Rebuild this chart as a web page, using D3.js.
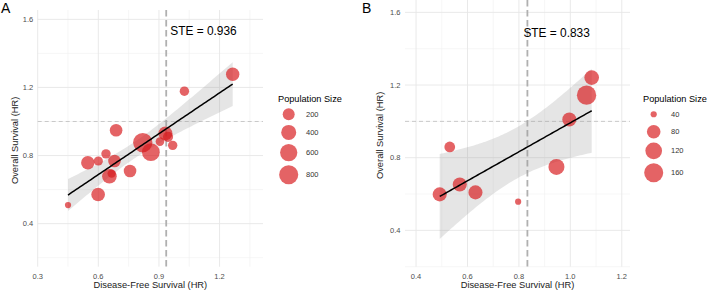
<!DOCTYPE html>
<html>
<head>
<meta charset="utf-8">
<script src="https://cdn.jsdelivr.net/npm/d3@7"></script>
<style>
  body { margin: 0; background: #fff; }
  svg { font-family: "Liberation Sans", Arial, sans-serif; display: block; }
</style>
</head>
<body>
<svg id="chart" width="708" height="290"></svg>
<script>
// Panel A data: disease-free survival HR, overall survival HR, population size
const dfsA = [1.265, 1.026, 0.688, 0.932, 0.945, 0.820, 0.860, 0.905, 0.968, 0.638, 0.548, 0.600, 0.680, 0.757, 0.666, 0.655, 0.599, 0.450];
const osA  = [1.278, 1.178, 0.949, 0.930, 0.910, 0.876, 0.820, 0.882, 0.860, 0.810, 0.758, 0.768, 0.768, 0.709, 0.694, 0.678, 0.571, 0.509];
const popA = [283, 96, 234, 323, 120, 820, 650, 76, 96, 96, 283, 90, 234, 234, 70, 367, 300, 50];
const steA = 0.936;

// Panel B data
const dfsB = [0.492, 0.531, 0.570, 0.631, 0.797, 0.946, 0.996, 1.063, 1.083];
const osB  = [0.598, 0.859, 0.652, 0.609, 0.558, 0.749, 1.010, 1.144, 1.241];
const popB = [85, 55, 85, 85, 40, 110, 85, 165, 92];
const steB = 0.833;

// axis ticks and legend breaks
const xTicksA = [0.3, 0.6, 0.9, 1.2];
const xMinorA = [0.45, 0.75, 1.05, 1.35];
const xTicksB = [0.4, 0.6, 0.8, 1.0, 1.2];
const xMinorB = [0.5, 0.7, 0.9, 1.1];
const yTicks = [0.4, 0.8, 1.2, 1.6];
const yMinor = [0.2, 0.6, 1.0, 1.4];
const legendA = [200, 400, 600, 800];
const legendB = [40, 80, 120, 160];

const svg = d3.select("#chart");
const pointFill = "#d7191c";

// t quantile (0.975) via Cornish-Fisher expansion
function tCrit(df) {
    const z = 1.959964;
    return z + (Math.pow(z,3) + z) / (4*df)
        + (5*Math.pow(z,5) + 16*Math.pow(z,3) + 3*z) / (96*df*df)
        + (3*Math.pow(z,7) + 19*Math.pow(z,5) + 17*Math.pow(z,3) - 15*z) / (384*df*df*df);
}

// ordinary least squares with 95% confidence band
function lmFit(xs, ys) {
    const n = xs.length;
    const mx = d3.mean(xs), my = d3.mean(ys);
    let sxx = 0, sxy = 0;
    xs.forEach((x, i) => { sxx += (x-mx)*(x-mx); sxy += (x-mx)*(ys[i]-my); });
    const slope = sxy / sxx, icpt = my - slope*mx;
    let ssr = 0;
    xs.forEach((x, i) => { const r = ys[i] - (icpt + slope*x); ssr += r*r; });
    const s = Math.sqrt(ssr / (n-2));
    const t = tCrit(n-2);
    return function(x) {
        const fit = icpt + slope*x;
        const se = s * Math.sqrt(1/n + (x-mx)*(x-mx)/sxx);
        return {x: x, fit: fit, lo: fit - t*se, hi: fit + t*se};
    };
}

function drawPanel(cfg) {
    const g = svg.append("g");
    const x = d3.scaleLinear().domain(cfg.xDomain).range([cfg.left, cfg.right]);
    const y = d3.scaleLinear().domain(cfg.yDomain).range([cfg.bottom, cfg.top]);

    const ext = d3.extent(cfg.pop);
    const sizeT = d3.scaleLinear().domain(ext).range([0, 1]);
    const rad = d3.scaleLinear().domain([0, 1]).range([3.1, 9.65]);
    const r = v => rad(Math.sqrt(Math.max(0, sizeT(v))));

    // grid
    g.selectAll(".vmin").data(cfg.xMinor).enter().append("line")
        .attr("x1", d => x(d)).attr("x2", d => x(d))
        .attr("y1", cfg.top).attr("y2", cfg.bottom)
        .attr("stroke", "#f0f0f0").attr("stroke-width", 0.6);
    g.selectAll(".hmin").data(yMinor).enter().append("line")
        .attr("x1", cfg.left).attr("x2", cfg.right)
        .attr("y1", d => y(d)).attr("y2", d => y(d))
        .attr("stroke", "#f0f0f0").attr("stroke-width", 0.6);
    g.selectAll(".vmaj").data(cfg.xTicks).enter().append("line")
        .attr("x1", d => x(d)).attr("x2", d => x(d))
        .attr("y1", cfg.top).attr("y2", cfg.bottom)
        .attr("stroke", "#e6e6e6").attr("stroke-width", 0.9);
    g.selectAll(".hmaj").data(yTicks).enter().append("line")
        .attr("x1", cfg.left).attr("x2", cfg.right)
        .attr("y1", d => y(d)).attr("y2", d => y(d))
        .attr("stroke", "#e6e6e6").attr("stroke-width", 0.9);

    // tick labels
    g.selectAll(".xt").data(cfg.xTicks).enter().append("text")
        .attr("x", d => x(d)).attr("y", 276)
        .attr("text-anchor", "middle").attr("dominant-baseline", "central")
        .attr("font-size", 7.5).attr("fill", "#4d4d4d")
        .text(d => d.toFixed(1));
    g.selectAll(".yt").data(yTicks).enter().append("text")
        .attr("x", cfg.left - 4.5).attr("y", d => y(d))
        .attr("text-anchor", "end").attr("dominant-baseline", "central")
        .attr("font-size", 7.5).attr("fill", "#4d4d4d")
        .text(d => d.toFixed(1));

    // axis titles
    g.append("text")
        .attr("x", (cfg.left + cfg.right) / 2).attr("y", 284.5)
        .attr("text-anchor", "middle").attr("dominant-baseline", "central")
        .attr("font-size", 9.3).attr("fill", "#1a1a1a")
        .text("Disease-Free Survival (HR)");
    g.append("text")
        .attr("transform", `translate(${cfg.yTitleX},${(cfg.top + cfg.bottom) / 2 + 2}) rotate(-90)`)
        .attr("text-anchor", "middle").attr("dominant-baseline", "central")
        .attr("font-size", 9.3).attr("fill", "#1a1a1a")
        .text("Overall Survival (HR)");

    // reference lines
    g.append("line")
        .attr("x1", cfg.left).attr("x2", cfg.right)
        .attr("y1", y(1)).attr("y2", y(1))
        .attr("stroke", "#bdbdbd").attr("stroke-width", 0.8)
        .attr("stroke-dasharray", "4,3");
    g.append("line")
        .attr("x1", x(cfg.ste)).attr("x2", x(cfg.ste))
        .attr("y1", cfg.top).attr("y2", cfg.bottom)
        .attr("stroke", "#b0b0b0").attr("stroke-width", 1.8)
        .attr("stroke-dasharray", "6.5,3.5");

    // regression band and line
    const fit = lmFit(cfg.dfs, cfg.os);
    const xr = d3.extent(cfg.dfs);
    const grid = d3.range(0, 81).map(i => fit(xr[0] + (xr[1]-xr[0]) * i / 80));
    g.append("path").datum(grid)
        .attr("d", d3.area().x(d => x(d.x)).y0(d => y(d.lo)).y1(d => y(d.hi)))
        .attr("fill", "#999999").attr("fill-opacity", 0.26);

    // points
    const pts = cfg.dfs.map((d, i) => ({x: d, y: cfg.os[i], p: cfg.pop[i]}));
    g.selectAll(".pt").data(pts).enter().append("circle")
        .attr("cx", d => x(d.x)).attr("cy", d => y(d.y)).attr("r", d => r(d.p))
        .attr("fill", pointFill).attr("fill-opacity", 0.68);

    g.append("path").datum(grid)
        .attr("d", d3.line().x(d => x(d.x)).y(d => y(d.fit)))
        .attr("fill", "none").attr("stroke", "#000").attr("stroke-width", 1.5);

    // STE label
    g.append("text")
        .attr("x", x(cfg.ste) + cfg.steDx).attr("y", cfg.steY)
        .attr("dominant-baseline", "central")
        .attr("font-size", 11.9).attr("fill", "#000")
        .text("STE = " + cfg.ste.toFixed(3));

    // panel tag
    g.append("text")
        .attr("x", cfg.tagX).attr("y", 12.5)
        .attr("font-size", 14).attr("fill", "#000")
        .text(cfg.tag);

    // legend
    const lg = g.append("g");
    lg.append("text")
        .attr("x", cfg.legX).attr("y", 99)
        .attr("dominant-baseline", "central")
        .attr("font-size", 9.2).attr("fill", "#000")
        .text("Population Size");
    let cy = 105.6;
    cfg.legend.forEach(v => {
        const rr = r(v);
        const h = Math.max(17.3, 2*rr + 4);
        const c = cy + h / 2;
        lg.append("circle")
            .attr("cx", cfg.legX + 10.7).attr("cy", c).attr("r", rr)
            .attr("fill", pointFill).attr("fill-opacity", 0.68);
        lg.append("text")
            .attr("x", cfg.legX + 28).attr("y", c)
            .attr("dominant-baseline", "central")
            .attr("font-size", 7.5).attr("fill", "#333")
            .text(v);
        cy += h;
    });
}

drawPanel({
    tag: "A", tagX: 1,
    dfs: dfsA, os: osA, pop: popA, ste: steA,
    xTicks: xTicksA, xMinor: xMinorA,
    xDomain: [0.3, 1.415], yDomain: [0.147, 1.655],
    left: 37.7, right: 263, top: 10, bottom: 266.7,
    yTitleX: 15, steDx: 4, steY: 31,
    legend: legendA, legX: 278
});

drawPanel({
    tag: "B", tagX: 362,
    dfs: dfsB, os: osB, pop: popB, ste: steB,
    xTicks: xTicksB, xMinor: xMinorB,
    xDomain: [0.357, 1.232], yDomain: [0.2, 1.668],
    left: 405, right: 630, top: 0, bottom: 266.7,
    yTitleX: 380, steDx: -4, steY: 33,
    legend: legendB, legX: 643
});
</script>
</body>
</html>
